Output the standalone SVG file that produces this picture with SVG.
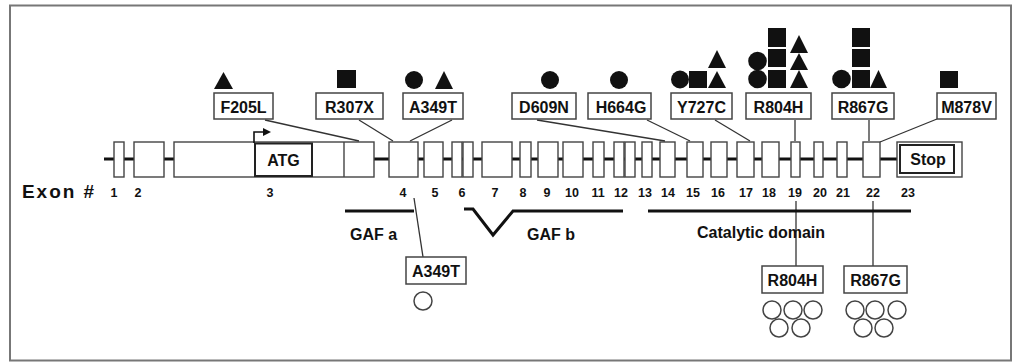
<svg xmlns="http://www.w3.org/2000/svg" width="1016" height="362" viewBox="0 0 1016 362">
<defs>
<style>
text{font-family:"Liberation Sans",Arial,sans-serif;font-weight:bold;fill:#111}
.lbl{font-size:16px;text-anchor:middle}
.num{font-size:12.5px;text-anchor:middle}
.box{fill:#fff;stroke:#444;stroke-width:1.5}
.ex{fill:#fff;stroke:#444;stroke-width:1.4}
.conn{stroke:#333;stroke-width:1.3;fill:none}
.dom{stroke:#111;stroke-width:3;fill:none}
.f{fill:#111}
.oc{fill:#fff;stroke:#444;stroke-width:1.5}
</style>
<marker id="ah" markerWidth="8" markerHeight="8" refX="6" refY="4" orient="auto" markerUnits="userSpaceOnUse"><path d="M0,0 L8,4 L0,8 Z" fill="#111"/></marker>
</defs>
<rect x="10" y="5.5" width="1001" height="355" fill="#fff" stroke="#777" stroke-width="2"/>

<g id="gene">
<line x1="104" y1="159" x2="897" y2="159" stroke="#111" stroke-width="3"/>
<rect class="ex" x="114" y="142" width="10" height="35"/>
<rect class="ex" x="134" y="142" width="30" height="35"/>
<rect class="ex" x="174" y="142" width="200" height="35"/>
<line x1="344" y1="142" x2="344" y2="177" stroke="#444" stroke-width="1.4"/>
<rect x="255" y="143.5" width="57" height="32.5" fill="#fff" stroke="#222" stroke-width="2"/>
<text class="lbl" x="283.5" y="166">ATG</text>
<polyline points="254,143 254,132 269,132" stroke="#111" stroke-width="1.6" fill="none" marker-end="url(#ah)"/>
<rect class="ex" x="389" y="142" width="29" height="35"/>
<rect class="ex" x="424" y="142" width="19" height="35"/>
<rect class="ex" x="452" y="142" width="10" height="35"/>
<rect class="ex" x="463" y="142" width="10" height="35"/>
<rect class="ex" x="482" y="142" width="30" height="35"/>
<rect class="ex" x="520" y="142" width="11" height="35"/>
<rect class="ex" x="538" y="142" width="20" height="35"/>
<rect class="ex" x="563" y="142" width="20" height="35"/>
<rect class="ex" x="593" y="142" width="11" height="35"/>
<rect class="ex" x="614" y="142" width="10" height="35"/>
<rect class="ex" x="625" y="142" width="10" height="35"/>
<rect class="ex" x="642" y="142" width="10" height="35"/>
<rect class="ex" x="660" y="142" width="15" height="35"/>
<rect class="ex" x="687" y="142" width="16" height="35"/>
<rect class="ex" x="711" y="142" width="16" height="35"/>
<rect class="ex" x="737" y="142" width="17" height="35"/>
<rect class="ex" x="762" y="142" width="17" height="35"/>
<rect class="ex" x="791" y="142" width="9" height="35"/>
<rect class="ex" x="814" y="142" width="9" height="35"/>
<rect class="ex" x="837" y="142" width="10" height="35"/>
<rect class="ex" x="863" y="142" width="17" height="35"/>
<rect class="ex" x="897" y="142" width="65" height="35"/>
<rect x="900" y="145" width="54" height="28" fill="#fff" stroke="#222" stroke-width="2"/>
<text class="lbl" x="928" y="165">Stop</text>
</g>

<g id="exon-numbers">
<text x="22" y="198" style="font-size:19px" textLength="72" lengthAdjust="spacing">Exon #</text>
<text class="num" x="114" y="197">1</text>
<text class="num" x="138" y="197">2</text>
<text class="num" x="270" y="197">3</text>
<text class="num" x="403" y="197">4</text>
<text class="num" x="435" y="197">5</text>
<text class="num" x="462" y="197">6</text>
<text class="num" x="495" y="197">7</text>
<text class="num" x="523" y="197">8</text>
<text class="num" x="547" y="197">9</text>
<text class="num" x="572" y="197">10</text>
<text class="num" x="598" y="197">11</text>
<text class="num" x="621" y="197">12</text>
<text class="num" x="645" y="197">13</text>
<text class="num" x="668" y="197">14</text>
<text class="num" x="693" y="197">15</text>
<text class="num" x="718" y="197">16</text>
<text class="num" x="746" y="197">17</text>
<text class="num" x="769" y="197">18</text>
<text class="num" x="795" y="197">19</text>
<text class="num" x="820" y="197">20</text>
<text class="num" x="843" y="197">21</text>
<text class="num" x="873" y="197">22</text>
<text class="num" x="908" y="197">23</text>
</g>

<g id="connectors">
<line class="conn" x1="265" y1="120" x2="359" y2="141"/>
<line class="conn" x1="359" y1="120" x2="393" y2="141"/>
<line class="conn" x1="452" y1="120" x2="410" y2="141"/>
<line class="conn" x1="537" y1="120" x2="665" y2="141"/>
<line class="conn" x1="647" y1="120" x2="690" y2="141"/>
<line class="conn" x1="715" y1="120" x2="750" y2="141"/>
<line class="conn" x1="795" y1="120" x2="795" y2="141"/>
<line class="conn" x1="869" y1="120" x2="869" y2="141"/>
<line class="conn" x1="937" y1="119" x2="880" y2="142"/>
<line class="conn" x1="414" y1="198" x2="423" y2="257"/>
<line class="conn" x1="796" y1="201" x2="796" y2="266"/>
<line class="conn" x1="873" y1="201" x2="873" y2="266"/>
</g>

<g id="domains">
<line class="dom" x1="345" y1="211" x2="414" y2="211"/>
<polyline class="dom" points="464,209 473,209 493,235 513,211 623,211"/>
<line class="dom" x1="648" y1="211" x2="911" y2="211"/>
<text x="350" y="240" style="font-size:16px">GAF a</text>
<text x="527" y="240" style="font-size:16px">GAF b</text>
<text x="697" y="238" style="font-size:16px">Catalytic domain</text>
</g>

<g id="F205L">
<polygon class="f" points="214,89 233,89 223.5,72"/>
<rect class="box" x="214" y="93" width="59" height="26"/>
<text class="lbl" x="243.5" y="112.5">F205L</text>
</g>
<g id="R307X">
<rect class="f" x="337" y="70" width="19" height="18"/>
<rect class="box" x="316" y="93" width="67" height="26"/>
<text class="lbl" x="349.5" y="112.5">R307X</text>
</g>
<g id="A349T">
<circle class="f" cx="414" cy="80" r="9"/>
<polygon class="f" points="435,89 453,89 444,71"/>
<rect class="box" x="403" y="93" width="60" height="26"/>
<text class="lbl" x="433" y="112.5">A349T</text>
</g>
<g id="D609N">
<circle class="f" cx="550" cy="80" r="9"/>
<rect class="box" x="512" y="93" width="64" height="26"/>
<text class="lbl" x="544" y="112.5">D609N</text>
</g>
<g id="H664G">
<circle class="f" cx="619" cy="80" r="9"/>
<rect class="box" x="588" y="93" width="63" height="26"/>
<text class="lbl" x="621" y="112.5">H664G</text>
</g>
<g id="Y727C">
<circle class="f" cx="680" cy="79.5" r="9"/>
<rect class="f" x="689" y="71" width="18" height="17"/>
<polygon class="f" points="708,88 726,88 717,71"/>
<polygon class="f" points="708,68 726,68 717,50"/>
<rect class="box" x="671" y="93" width="61" height="26"/>
<text class="lbl" x="701.5" y="112.5">Y727C</text>
</g>
<g id="R804H">
<circle class="f" cx="757.5" cy="61" r="9.3"/>
<circle class="f" cx="757.5" cy="79" r="9.3"/>
<rect class="f" x="768" y="28" width="18" height="19"/>
<rect class="f" x="768" y="49" width="18" height="18"/>
<rect class="f" x="768" y="70" width="18" height="18"/>
<polygon class="f" points="790,53 808,53 799,35"/>
<polygon class="f" points="790,70 808,70 799,53"/>
<polygon class="f" points="790,88 808,88 799,70"/>
<rect class="box" x="746" y="93" width="65" height="26"/>
<text class="lbl" x="778.5" y="112.5">R804H</text>
</g>
<g id="R867G">
<circle class="f" cx="841.5" cy="79" r="9.3"/>
<rect class="f" x="852" y="28" width="18" height="19"/>
<rect class="f" x="852" y="49" width="18" height="18"/>
<rect class="f" x="852" y="70" width="18" height="18"/>
<polygon class="f" points="870,88 887,88 878.5,70"/>
<rect class="box" x="832" y="93" width="62" height="26"/>
<text class="lbl" x="863" y="112.5">R867G</text>
</g>
<g id="M878V">
<rect class="f" x="940" y="71" width="18" height="17"/>
<rect class="box" x="937" y="93" width="59" height="26"/>
<text class="lbl" x="966.5" y="112.5">M878V</text>
</g>

<g id="A349T-b">
<rect class="box" x="406" y="257" width="60" height="27"/>
<text class="lbl" x="436" y="276.5">A349T</text>
<circle class="oc" cx="423" cy="301" r="9"/>
</g>
<g id="R804H-b">
<rect class="box" x="762" y="266" width="61" height="27"/>
<text class="lbl" x="792.5" y="285.5">R804H</text>
<circle class="oc" cx="772" cy="310" r="9"/>
<circle class="oc" cx="793" cy="310" r="9"/>
<circle class="oc" cx="813" cy="310" r="9"/>
<circle class="oc" cx="779" cy="328" r="9"/>
<circle class="oc" cx="801" cy="328" r="9"/>
</g>
<g id="R867G-b">
<rect class="box" x="844" y="266" width="63" height="27"/>
<text class="lbl" x="875.5" y="285.5">R867G</text>
<circle class="oc" cx="855" cy="310" r="9"/>
<circle class="oc" cx="875" cy="310" r="9"/>
<circle class="oc" cx="897" cy="310" r="9"/>
<circle class="oc" cx="863" cy="328" r="9"/>
<circle class="oc" cx="884" cy="328" r="9"/>
</g>
</svg>
